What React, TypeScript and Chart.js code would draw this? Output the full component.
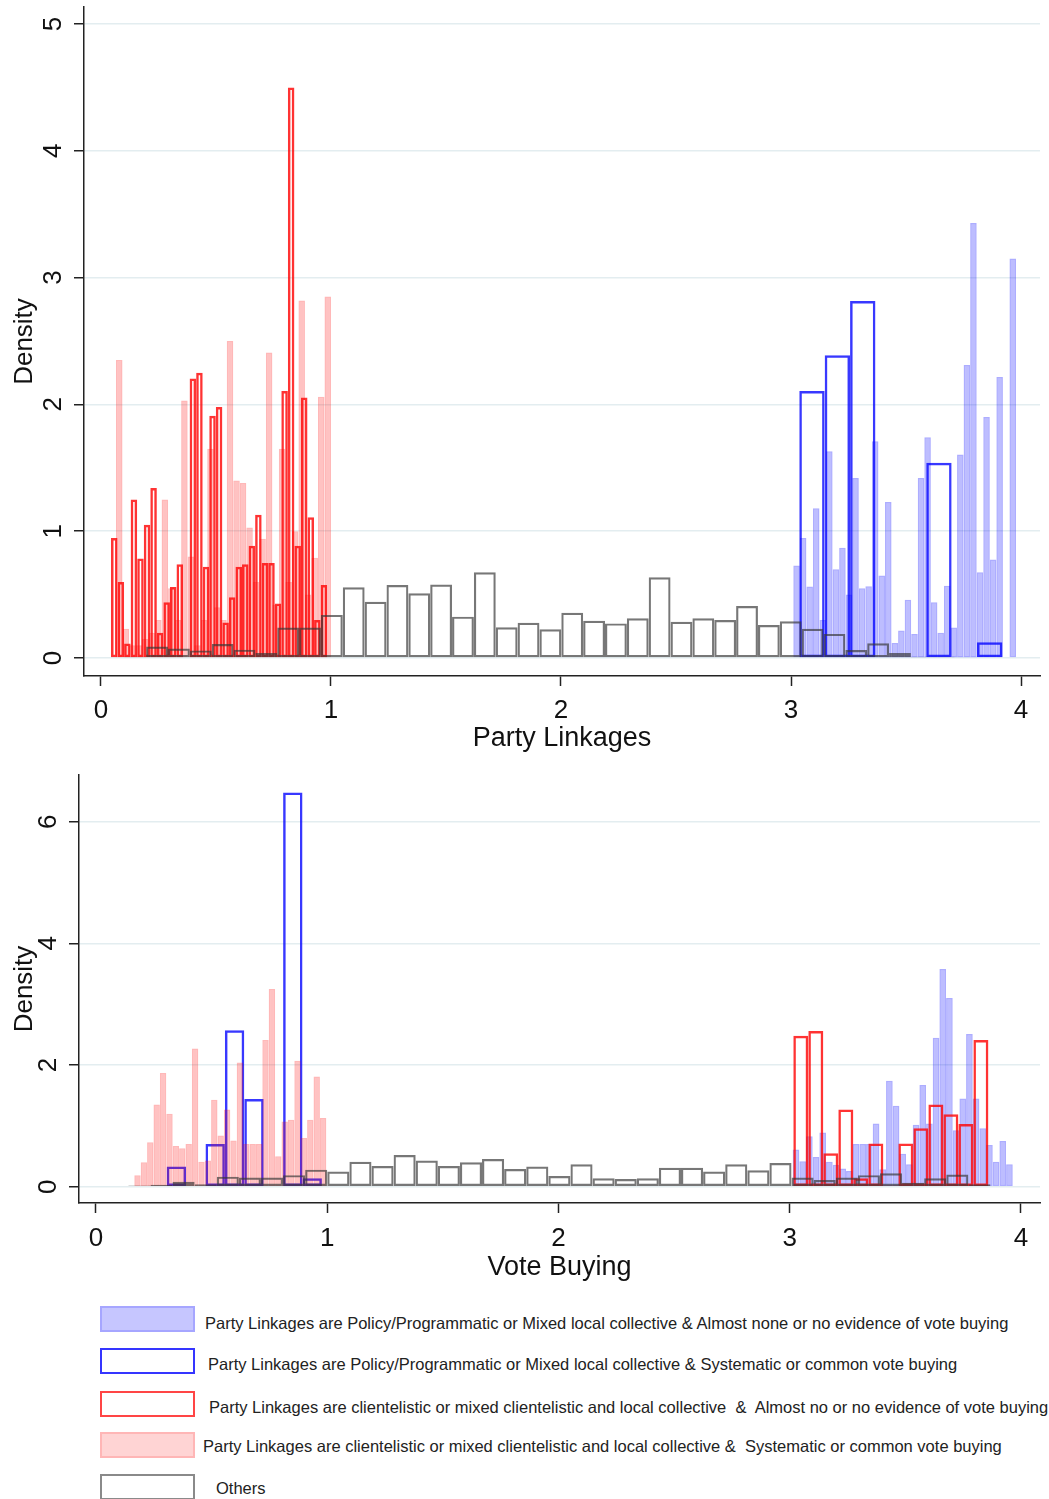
import React, { useEffect, useRef } from "react";
import { Chart, registerables } from "chart.js";

Chart.register(...registerables);

// ---------------- Data: top panel (x = Party Linkages) ----------------
const PL_X_TICKS = [0, 1, 2, 3, 4];
const PL_Y_TICKS = [0, 1, 2, 3, 4, 5];

// Policy/Programmatic & almost no vote buying (light blue, filled)
const plLightBlueStart = 3.01;
const plLightBlueWidth = 0.02848;
const plLightBlue = [0.73, 0.947, 0.563, 1.18, 0.3, 1.63, 0.7, 0.87, 0.5, 1.42, 0.55, 0.566, 1.71, 0.65, 1.23, 0.118, 0.216, 0.46, 0.19, 1.42, 1.74, 0.44, 0.2, 0.57, 0.24, 1.605, 2.31, 3.43, 0.676, 1.9, 0.776, 2.216, 0, 3.15];

// Policy/Programmatic & systematic vote buying (blue outline)
const plBlueStart = 3.036;
const plBlueWidth = 0.1104;
const plBlue = [2.105, 2.387, 2.816, 0.01, 0.01, 1.54, 0.01, 0.124];

// Clientelistic & almost no vote buying (red outline)
const plRedStart = 0.0435;
const plRedWidth = 0.02848;
const plRed = [0.946, 0.6, 0.115, 1.25, 0.785, 1.05, 1.34, 0.2, 0.44, 0.56, 0.74, 0, 2.205, 2.25, 0.72, 1.91, 1.98, 0.28, 0.48, 0.72, 0.74, 0.885, 1.13, 0.75, 0.75, 0.43, 2.105, 4.5, 0.885, 2.055, 1.11, 0.3, 0.575];

// Clientelistic & systematic vote buying (pink, filled)
const plPinkStart = 0.0652;
const plPinkWidth = 0.02833;
const plPink = [2.35, 0.23, 0.1, 0.1, 0.15, 0.2, 0.3, 1.25, 0.55, 0.3, 2.03, 0.8, 0.1, 0.3, 1.65, 0.4, 0.3, 2.5, 1.4, 1.38, 1.03, 0.6, 0.94, 2.41, 0.42, 1.65, 0.6, 1.0, 2.82, 0.5, 0.79, 2.06, 2.85];

// Others (gray outline)
const plGrayStart = 0.1013;
const plGrayWidth = 0.095;
const plGray = [0.01, 0.09, 0.075, 0.06, 0.11, 0.066, 0.04, 0.24, 0.24, 0.34, 0.557, 0.444, 0.576, 0.51, 0.58, 0.326, 0.676, 0.242, 0.278, 0.226, 0.357, 0.294, 0.273, 0.313, 0.636, 0.286, 0.313, 0.3, 0.41, 0.26, 0.29, 0.23, 0.19, 0.063, 0.116, 0.04, 0.01, 0.01];

// ---------------- Data: bottom panel (x = Vote Buying) ----------------
const VB_X_TICKS = [0, 1, 2, 3, 4];
const VB_Y_TICKS = [0, 2, 4, 6];

const vbLightBlueStart = 3.0127;
const vbLightBlueWidth = 0.02884;
const vbLightBlue = [0.61, 0.42, 0.83, 0.49, 0.89, 0.41, 0.36, 0.3, 0.26, 0.7, 0.7, 0.7, 1.04, 0.285, 1.74, 1.33, 0.54, 0.37, 1.02, 1.67, 1.04, 2.45, 3.58, 3.1, 0.93, 1.45, 2.51, 1.45, 0.96, 0.685, 0.41, 0.75, 0.37];

const vbBlueStart = 0.3057;
const vbBlueWidth = 0.0839;
const vbBlue = [0.33, 0.01, 0.7, 2.57, 1.44, 0.01, 6.48, 0.14];

const vbRedStart = 3.0154;
const vbRedWidth = 0.0649;
const vbRed = [2.48, 2.56, 0.55, 1.27, 0.137, 0.71, 0.02, 0.71, 0.96, 1.35, 1.19, 1.03, 2.41];

const vbPinkStart = 0.1656;
const vbPinkWidth = 0.02768;
const vbPink = [0.19, 0.4, 0.73, 1.35, 1.87, 1.2, 0.67, 0.63, 0.7, 2.27, 0.41, 0.43, 1.43, 0.84, 1.27, 0.76, 2.04, 0.7, 0.7, 0.7, 2.41, 3.25, 0.5, 1.07, 1.1, 2.07, 0.8, 1.1, 1.81, 1.13];

const vbGrayStart = 0.1397;
const vbGrayWidth = 0.0956;
const vbGray = [0.02, 0.03, 0.08, 0.04, 0.165, 0.15, 0.15, 0.19, 0.28, 0.25, 0.41, 0.34, 0.52, 0.43, 0.34, 0.4, 0.455, 0.29, 0.33, 0.175, 0.367, 0.137, 0.126, 0.137, 0.31, 0.31, 0.25, 0.37, 0.27, 0.39, 0.15, 0.11, 0.15, 0.19, 0.22, 0.066, 0.137, 0.2, 0.04];

const LEGEND_LABELS = [
  "Party Linkages are Policy/Programmatic or Mixed local collective & Almost none or no evidence of vote buying",
  "Party Linkages are Policy/Programmatic or Mixed local collective & Systematic or common vote buying",
  "Party Linkages are clientelistic or mixed clientelistic and local collective  &  Almost no or no evidence of vote buying",
  "Party Linkages are clientelistic or mixed clientelistic and local collective &  Systematic or common vote buying",
  "Others",
];

// ---------------- Styles ----------------
const FONT = '"Liberation Sans", Arial, sans-serif';
const AXIS = "#222";
const TEXT = "#111";
const GRID = "#e3edf0";

const STYLES = {
  lightBlue: { fill: "rgba(0,0,255,0.26)", border: "rgba(0,0,255,0.32)", width: 1.5, order: 5 },
  blue: { fill: "rgba(0,0,0,0)", border: "rgba(0,0,255,0.78)", width: 2.5, order: 4 },
  red: { fill: "rgba(0,0,0,0)", border: "rgba(255,0,0,0.8)", width: 2.5, order: 3 },
  pink: { fill: "rgba(255,0,0,0.24)", border: "rgba(255,0,0,0.28)", width: 1.5, order: 2 },
  gray: { fill: "rgba(0,0,0,0)", border: "rgba(55,55,55,0.68)", width: 2.2, order: 1 },
};

const LEGEND_BOXES = [
  { bg: "#c6c6ff", border: "#a6a6ff" },
  { bg: "#ffffff", border: "#3535ff" },
  { bg: "#ffffff", border: "#ff4545" },
  { bg: "#ffd4d4", border: "#ffb6b6" },
  { bg: "#ffffff", border: "#8a8a8a" },
];

function histogram(start: number, width: number, values: number[]) {
  return values.map((y, i) => ({ x: start + (i + 0.5) * width, y }));
}

function fixedTicks(values: number[]) {
  return (scale: any) => {
    scale.ticks = values.map((value) => ({ value }));
  };
}

type SeriesSpec = { label: string; data: { x: number; y: number }[]; style: { fill: string; border: string; width: number; order: number } };

type PanelSpec = {
  xMin: number; xMax: number; yMin: number; yMax: number;
  xTicks: number[]; yTicks: number[];
  xTitle: string;
  series: SeriesSpec[];
  padding: { top: number; right: number; left: number; bottom: number };
  yAxisWidth: number; xAxisHeight: number;
  xTickPad: number; xTitlePad: number;
};

function makeConfig(p: PanelSpec): any {
  const scales: any = {
    x: {
      type: "linear",
      position: "bottom",
      min: p.xMin,
      max: p.xMax,
      offset: false,
      afterBuildTicks: fixedTicks(p.xTicks),
      afterFit: (s: any) => {
        s.height = p.xAxisHeight;
        s.paddingLeft = 0;
        s.paddingRight = 0;
      },
      grid: { display: true, drawOnChartArea: false, drawTicks: true, tickLength: 10, tickWidth: 1.5, tickColor: AXIS, offset: false },
      border: { display: true, color: AXIS, width: 1.5 },
      ticks: { color: TEXT, font: { family: FONT, size: 26 }, padding: p.xTickPad, maxRotation: 0, minRotation: 0, autoSkip: false },
      title: { display: true, text: p.xTitle, color: TEXT, font: { family: FONT, size: 27 }, padding: { top: 0, bottom: p.xTitlePad } },
    },
    y: {
      type: "linear",
      position: "left",
      min: p.yMin,
      max: p.yMax,
      afterBuildTicks: fixedTicks(p.yTicks),
      afterFit: (s: any) => {
        s.width = p.yAxisWidth;
        s.paddingTop = 0;
        s.paddingBottom = 0;
      },
      grid: { color: GRID, lineWidth: 1.5, drawTicks: true, tickLength: 10, tickWidth: 1.5, tickColor: AXIS },
      border: { display: true, color: AXIS, width: 1.5 },
      ticks: { color: TEXT, font: { family: FONT, size: 26 }, padding: 13, minRotation: 90, maxRotation: 90, crossAlign: "center", autoSkip: false },
      title: { display: true, text: "Density", color: TEXT, font: { family: FONT, size: 26 }, padding: { top: 9.5, bottom: 0 } },
    },
  };
  const datasets = p.series.map((s, i) => {
    const id = "x" + i;
    scales[id] = {
      type: "linear",
      axis: "x",
      position: "bottom",
      display: false,
      min: p.xMin,
      max: p.xMax,
      offset: false,
      afterBuildTicks: fixedTicks(p.xTicks),
      grid: { offset: false },
    };
    return {
      type: "bar",
      label: s.label,
      data: s.data,
      xAxisID: id,
      yAxisID: "y",
      backgroundColor: s.style.fill,
      borderColor: s.style.border,
      borderWidth: s.style.width,
      borderSkipped: false,
      barPercentage: 1,
      categoryPercentage: 1,
      grouped: false,
      inflateAmount: 0,
      order: s.style.order,
    };
  });
  return {
    type: "bar",
    data: { datasets },
    options: {
      animation: false,
      responsive: false,
      maintainAspectRatio: false,
      events: [],
      layout: { padding: p.padding },
      plugins: { legend: { display: false }, tooltip: { enabled: false } },
      scales,
    },
  };
}

const topPanel: PanelSpec = {
  xMin: -0.0739, xMax: 4.0826, yMin: -0.142, yMax: 5.134,
  xTicks: PL_X_TICKS, yTicks: PL_Y_TICKS,
  xTitle: "Party Linkages",
  series: [
    { label: LEGEND_LABELS[0], data: histogram(plLightBlueStart, plLightBlueWidth, plLightBlue), style: STYLES.lightBlue },
    { label: LEGEND_LABELS[1], data: histogram(plBlueStart, plBlueWidth, plBlue), style: STYLES.blue },
    { label: LEGEND_LABELS[2], data: histogram(plRedStart, plRedWidth, plRed), style: STYLES.red },
    { label: LEGEND_LABELS[3], data: histogram(plPinkStart, plPinkWidth, plPink), style: STYLES.pink },
    { label: LEGEND_LABELS[4], data: histogram(plGrayStart, plGrayWidth, plGray), style: STYLES.gray },
  ],
  padding: { top: 7, right: 9, left: 0, bottom: 0 },
  yAxisWidth: 84, xAxisHeight: 84,
  xTickPad: 9, xTitlePad: 4.8,
};

const bottomPanel: PanelSpec = {
  xMin: -0.0735, xMax: 4.0822, yMin: -0.268, yMax: 6.768,
  xTicks: VB_X_TICKS, yTicks: VB_Y_TICKS,
  xTitle: "Vote Buying",
  series: [
    { label: LEGEND_LABELS[0], data: histogram(vbLightBlueStart, vbLightBlueWidth, vbLightBlue), style: STYLES.lightBlue },
    { label: LEGEND_LABELS[1], data: histogram(vbBlueStart, vbBlueWidth, vbBlue), style: STYLES.blue },
    { label: LEGEND_LABELS[2], data: histogram(vbRedStart, vbRedWidth, vbRed), style: STYLES.red },
    { label: LEGEND_LABELS[3], data: histogram(vbPinkStart, vbPinkWidth, vbPink), style: STYLES.pink },
    { label: LEGEND_LABELS[4], data: histogram(vbGrayStart, vbGrayWidth, vbGray), style: STYLES.gray },
  ],
  padding: { top: 15, right: 9, left: 0, bottom: 0 },
  yAxisWidth: 79, xAxisHeight: 87,
  xTickPad: 10.4, xTitlePad: 6.2,
};

function PanelChart({ spec, top, height }: { spec: PanelSpec; top: number; height: number }) {
  const ref = useRef<HTMLCanvasElement | null>(null);
  useEffect(() => {
    if (!ref.current) return;
    const chart = new Chart(ref.current, makeConfig(spec));
    return () => chart.destroy();
  }, [spec]);
  return (
    <canvas
      ref={ref}
      width={1049}
      height={height}
      style={{ position: "absolute", left: 0, top, width: 1049, height, display: "block" }}
    />
  );
}

const LEGEND_ROWS = [
  { boxTop: 1306, textLeft: 205, textMid: 1323 },
  { boxTop: 1348, textLeft: 208, textMid: 1364 },
  { boxTop: 1391, textLeft: 209, textMid: 1407 },
  { boxTop: 1432, textLeft: 203, textMid: 1446 },
  { boxTop: 1474, textLeft: 216, textMid: 1488 },
];

export default function App() {
  return (
    <div style={{ position: "absolute", left: 0, top: 0, width: 1049, height: 1499, background: "#fff", overflow: "hidden" }}>
      <PanelChart spec={topPanel} top={0} height={760} />
      <PanelChart spec={bottomPanel} top={760} height={530} />
      {LEGEND_LABELS.map((label, i) => (
        <React.Fragment key={i}>
          <div
            style={{
              position: "absolute",
              left: 100,
              top: LEGEND_ROWS[i].boxTop,
              width: 95,
              height: 26,
              boxSizing: "border-box",
              background: LEGEND_BOXES[i].bg,
              border: `2px solid ${LEGEND_BOXES[i].border}`,
            }}
          />
          <div
            style={{
              position: "absolute",
              left: LEGEND_ROWS[i].textLeft,
              top: LEGEND_ROWS[i].textMid - 10,
              height: 20,
              lineHeight: "20px",
              fontSize: 16.5,
              fontFamily: FONT,
              color: "#222",
              whiteSpace: "pre",
            }}
          >
            {label}
          </div>
        </React.Fragment>
      ))}
    </div>
  );
}
